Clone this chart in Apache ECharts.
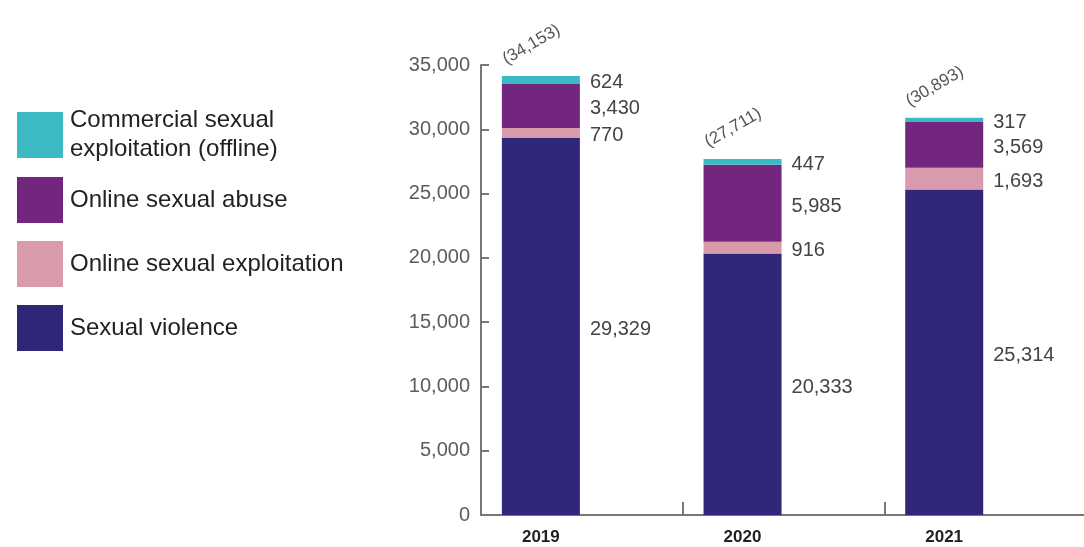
<!DOCTYPE html>
<html><head><meta charset="utf-8">
<script src="https://cdn.jsdelivr.net/npm/echarts@6/dist/echarts.min.js"></script>
<style>html,body{margin:0;padding:0;background:#fff}#c{width:1084px;height:547px}</style>
</head><body><div id="c"></div>
<script>
const years = ['2019', '2020', '2021'];
const sexualViolence = [29329, 20333, 25314];
const onlineExploitation = [770, 916, 1693];
const onlineAbuse = [3430, 5985, 3569];
const commercial = [624, 447, 317];
const totals = [34153, 27711, 30893];
const yTicks = [0, 5000, 10000, 15000, 20000, 25000, 30000, 35000];

const names = ['Commercial sexual exploitation (offline)', 'Online sexual abuse', 'Online sexual exploitation', 'Sexual violence'];
const colors = {sv:'#30267a', oe:'#d99aab', oa:'#72267e', cm:'#3cbac4'};
const fmt = v => v.toLocaleString('en-US');
const font = 'Liberation Sans';

function seg(name, data, color) {
  return {
    name, type:'bar', stack:'a', barWidth:78, data,
    itemStyle:{color},
    label:{show:true, position:'right', distance:10, color:'#444', fontSize:20, fontFamily:font,
      offset:[0,3], formatter:p => fmt(p.value)}
  };
}
const legendText = {fontSize:24, color:'#222', fontFamily:font, lineHeight:29, padding:[0,0,0,2]};

const chart = echarts.init(document.getElementById('c'));
chart.setOption({
  animation:false,
  grid:{left:481, top:65, width:605, height:450, containLabel:false, outerBoundsMode:'none'},
  legend:[{
    orient:'vertical', left:12, top:94, itemWidth:46, itemHeight:46,
    icon:'rect', data:[names[0]],
    formatter: () => 'Commercial sexual\nexploitation (offline)',
    textStyle:Object.assign({}, legendText, {padding:[14,0,0,2]})
  },{
    orient:'vertical', left:12, top:172, itemWidth:46, itemHeight:46, itemGap:18,
    icon:'rect', data:names.slice(1),
    textStyle:legendText
  }],
  xAxis:{
    type:'category', data:years, boundaryGap:true,
    axisLine:{lineStyle:{color:'#777', width:2}},
    axisTick:{show:true, interval:0, inside:true, length:13, lineStyle:{color:'#777', width:2}},
    axisLabel:{color:'#222', fontWeight:'bold', fontSize:17, fontFamily:font, margin:14, padding:[0,82,0,0]}
  },
  yAxis:{
    type:'value', min:0, max:35000, interval:5000,
    axisLine:{show:true, lineStyle:{color:'#777', width:2}},
    axisTick:{show:true, inside:true, length:8, lineStyle:{color:'#777', width:2}},
    splitLine:{show:false},
    axisLabel:{color:'#5c5c5c', fontSize:20, fontFamily:font, margin:11,
      formatter:v => yTicks.includes(v) ? fmt(v) : ''}
  },
  series:[
    seg(names[3], sexualViolence, colors.sv),
    seg(names[2], onlineExploitation, colors.oe),
    seg(names[1], onlineAbuse, colors.oa),
    seg(names[0], commercial, colors.cm),
    {name:'total', type:'bar', stack:'a', barWidth:78, data:totals.map(()=>0),
      itemStyle:{color:'transparent'},
      label:{show:true, position:'top', rotate:30, color:'#555', fontSize:17, fontFamily:font,
        offset:[5,-19], formatter:p => '(' + fmt(totals[p.dataIndex]) + ')'}},
    {name:'spacer', type:'bar', stack:'b', barWidth:78, barGap:'5%', data:years.map(()=>0),
      itemStyle:{color:'transparent'}}
  ]
});
</script></body></html>
